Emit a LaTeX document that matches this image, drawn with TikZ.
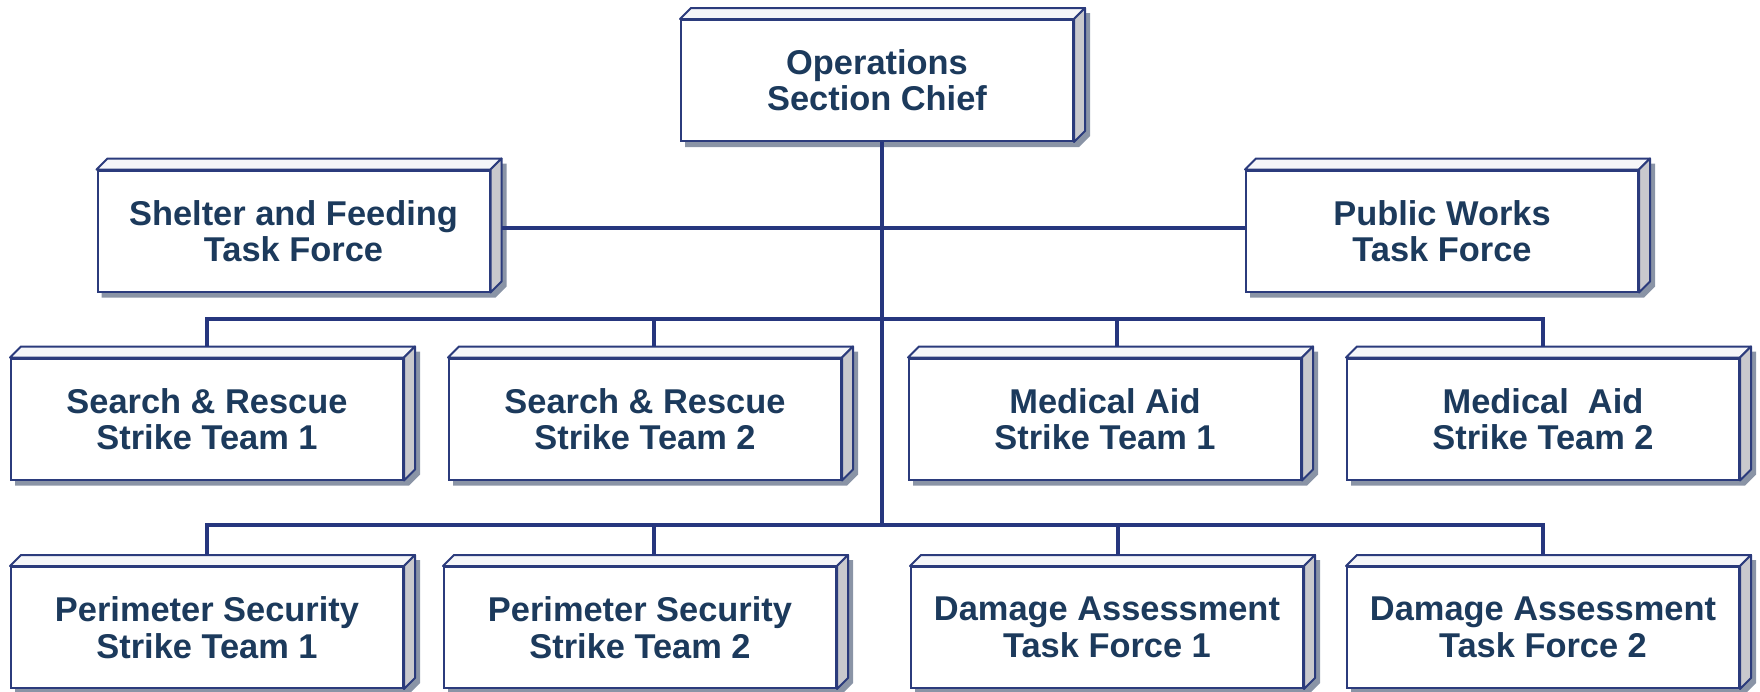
\documentclass[tikz,border=0pt]{standalone}
\usepackage{fontspec}
\setmainfont{Liberation Sans}
\usetikzlibrary{calc,backgrounds}

\definecolor{navy}{HTML}{26367E}
\definecolor{bordure}{HTML}{2B3B7C}
\definecolor{texte}{HTML}{1C3A5C}
\definecolor{ombre}{HTML}{8A94A6}
\definecolor{cote}{HTML}{C9C9CD}
\definecolor{dessus}{HTML}{F5F6F9}

\begin{document}
\begin{tikzpicture}[x=0.5pt,y=-0.5pt]
% Styles
 \tikzstyle{poste}=[rectangle,draw=bordure,line width=1pt,fill=white,
   minimum width=196pt,minimum height=60.5pt,inner sep=0pt,align=center,
   text=texte,font=\fontsize{17.2}{18.2}\selectfont\bfseries]
 \tikzstyle{lien}=[draw=navy,line width=2pt]
 \tikzstyle{face}=[draw=bordure,line width=1pt,line join=round]
 \useasboundingbox (0,0) rectangle (1760,691);
% Chef
 \node[poste] (chief) at (877,80.5) {Operations\\Section Chief};
% Task forces
 \node[poste] (shelter) at (293.5,231) {Shelter and Feeding\\Task Force};
 \node[poste] (public) at (1442,231) {Public Works\\Task Force};
% Rang 2
 \node[poste] (sr1) at (207,419) {Search \& Rescue\\Strike Team 1};
 \node[poste] (sr2) at (645,419) {Search \& Rescue\\Strike Team 2};
 \node[poste] (ma1) at (1105,419) {Medical Aid\\Strike Team 1};
 \node[poste] (ma2) at (1543,419) {Medical\ \ Aid\\Strike Team 2};
% Rang 3
 \node[poste] (ps1) at (207,627.5) {Perimeter Security\\Strike Team 1};
 \node[poste] (ps2) at (640,627.5) {Perimeter Security\\Strike Team 2};
 \node[poste] (da1) at (1107,627.5) {Damage Assessment\\Task Force 1};
 \node[poste] (da2) at (1543,627.5) {Damage Assessment\\Task Force 2};
% Relief 3D
 \begin{scope}[on background layer]
 \foreach \n in {chief,shelter,public,sr1,sr2,ma1,ma2,ps1,ps2,da1,da2}{
  \fill[ombre] ([shift={(2.5pt,-2.5pt)}]\n.south west)
     -- ([shift={(2.5pt,-2.5pt)}]\n.south east)
     -- ([shift={(8pt,3pt)}]\n.south east)
     -- ([shift={(8pt,3pt)}]\n.north east)
     -- ([shift={(2.5pt,-2.5pt)}]\n.north west) -- cycle;
  \filldraw[face,fill=dessus] (\n.north west) -- ([shift={(5.5pt,5.5pt)}]\n.north west)
     -- ([shift={(5.5pt,5.5pt)}]\n.north east) -- (\n.north east) -- cycle;
  \filldraw[face,fill=cote] (\n.north east) -- ([shift={(5.5pt,5.5pt)}]\n.north east)
     -- ([shift={(5.5pt,5.5pt)}]\n.south east) -- (\n.south east) -- cycle;
 }
 \end{scope}
% Liaisons
 \coordinate (j1) at (882,228);
 \coordinate (j2) at (882,319);
 \coordinate (j3) at (882,525);
 \draw[lien] (chief.south -| j3) -- (j3);
 \draw[lien] ([xshift=5.5pt]shelter.east |- j1) -- (public.west |- j1);
 \draw[lien] ([yshift=5.5pt]sr1.north) |- (j2) -| ([yshift=5.5pt]ma2.north);
 \draw[lien] ([xshift=4.5pt,yshift=5.5pt]sr2.north) -- ([xshift=4.5pt]sr2.north |- j2);
 \draw[lien] ([xshift=6pt,yshift=5.5pt]ma1.north) -- ([xshift=6pt]ma1.north |- j2);
 \draw[lien] ([yshift=5.5pt]ps1.north) |- (j3) -| ([yshift=5.5pt]da2.north);
 \draw[lien] ([xshift=7pt,yshift=5.5pt]ps2.north) -- ([xshift=7pt]ps2.north |- j3);
 \draw[lien] ([xshift=5.5pt,yshift=5.5pt]da1.north) -- ([xshift=5.5pt]da1.north |- j3);
\end{tikzpicture}
\end{document}
